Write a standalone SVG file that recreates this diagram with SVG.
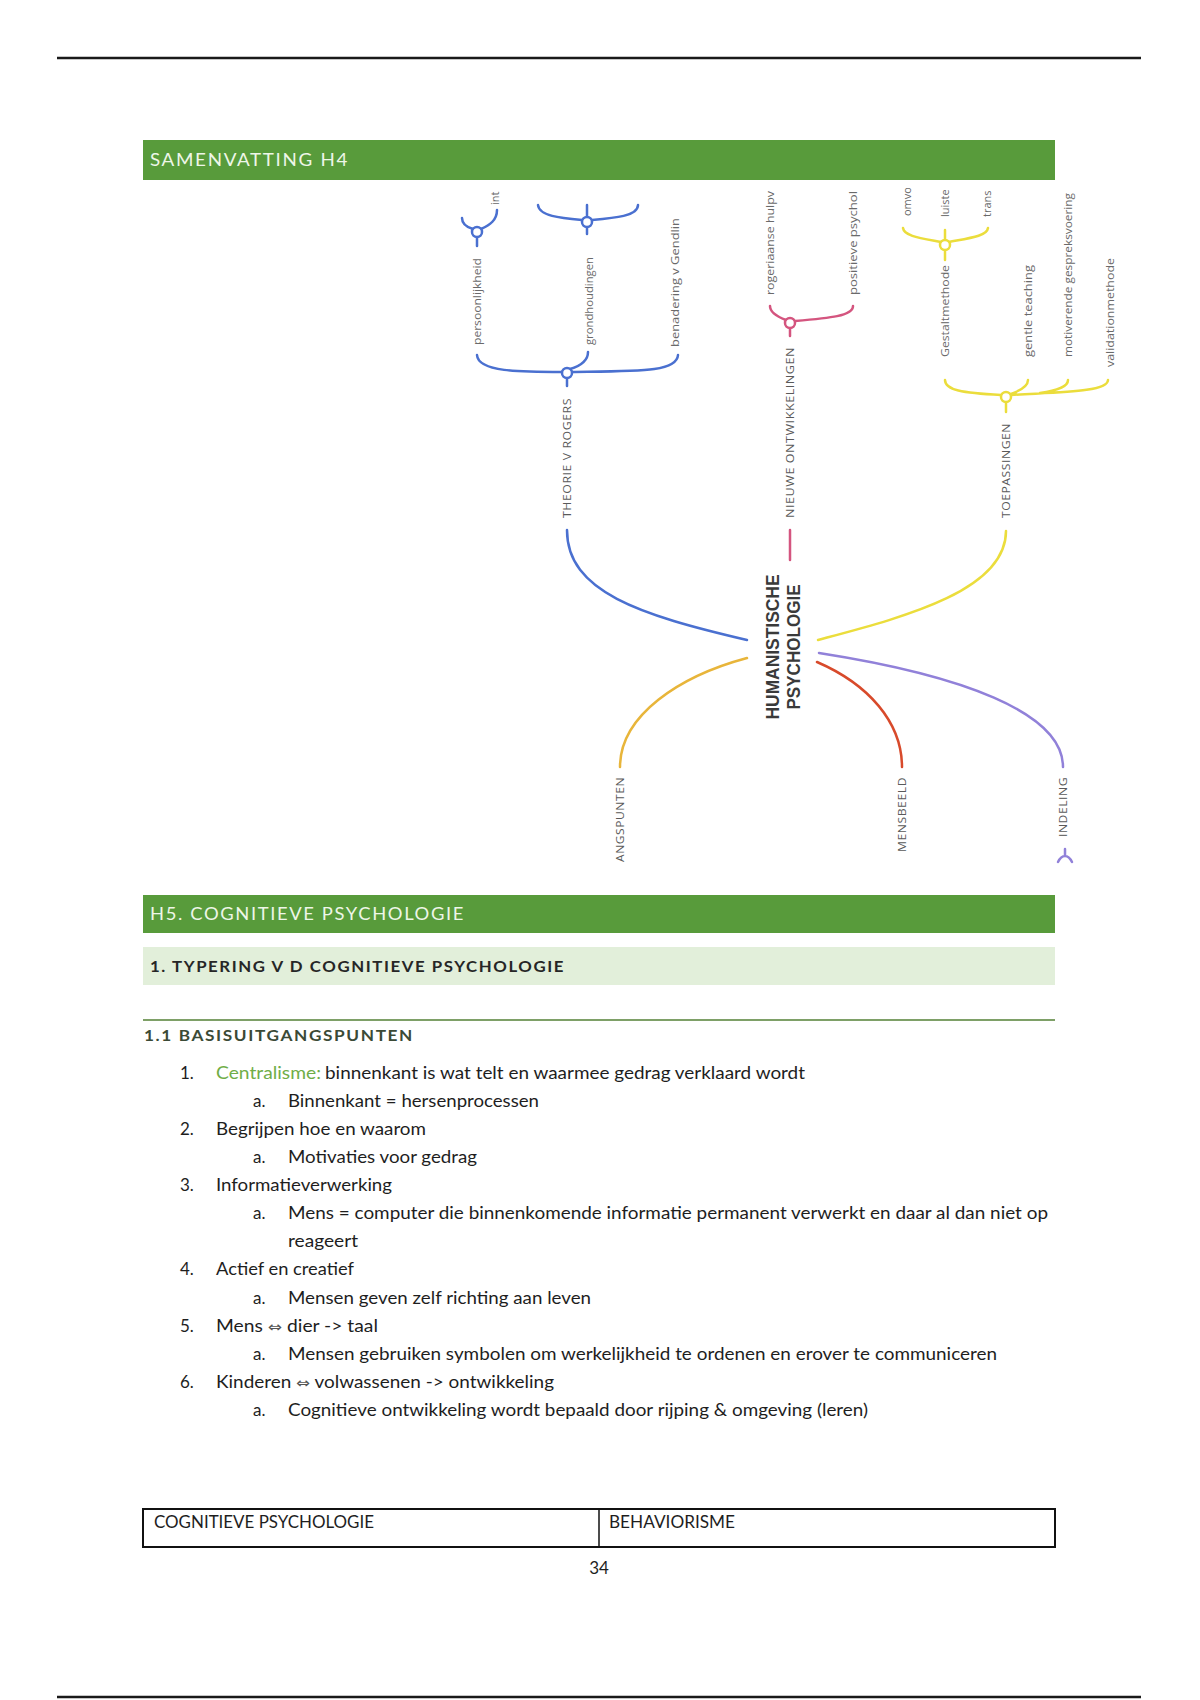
<svg xmlns="http://www.w3.org/2000/svg" width="1200" height="1700" viewBox="0 0 1200 1700">
<defs>
<style>
.rule{stroke:#1a1a1a;stroke-width:2.5}
.bar{fill:#589b3b}
.bartxt{font-family:Lato,"Liberation Sans",sans-serif;font-size:17px;fill:#eef6e8;letter-spacing:1.5px}
.sub{fill:#e2efda}
.subtxt{font-family:Lato,"Liberation Sans",sans-serif;font-size:16px;font-weight:bold;fill:#262626;letter-spacing:1.5px}
.h3{font-family:Lato,"Liberation Sans",sans-serif;font-size:16px;font-weight:bold;fill:#3b4a36;letter-spacing:1.5px}
.body{font-family:Lato,"Liberation Sans",sans-serif;font-size:17px;fill:#1e1e1e}
.sym{font-family:"DejaVu Sans",sans-serif;font-size:15px;fill:#555}
.green{fill:#70ad47}
.lbl{font-family:"Open Sans","Liberation Sans",sans-serif;font-size:11px;fill:#6a6a6a}
.cap{font-family:"Open Sans","Liberation Sans",sans-serif;font-size:11px;fill:#5a5a5a;letter-spacing:0.5px}
.root{font-family:"Liberation Sans",Arial,sans-serif;font-size:19px;font-weight:bold;fill:#3a3a3a}
.ln{fill:none;stroke-width:2.5;stroke-linecap:round}
.blue{stroke:#4a70d0}.pink{stroke:#d4557f}.yel{stroke:#ebdd3c}.org{stroke:#e8b53a}.red{stroke:#d84a2b}.pur{stroke:#9181d9}
.dot{fill:#ffffff;stroke-width:2.5}
</style>
<clipPath id="mmclip"><rect x="440" y="188" width="700" height="690"/></clipPath>
</defs>
<rect x="0" y="0" width="1200" height="1700" fill="#ffffff"/>
<line class="rule" x1="57" y1="58" x2="1141" y2="58"/>
<line class="rule" x1="57" y1="1697" x2="1141" y2="1697"/>

<g id="header-h4">
<rect class="bar" x="143" y="140" width="912" height="40"/>
<text class="bartxt" x="150" y="166" textLength="199" lengthAdjust="spacingAndGlyphs">SAMENVATTING H4</text>
</g>

<g id="mindmap" clip-path="url(#mmclip)">
<g id="connectors">
<path class="ln blue" d="M567,530 C567,592 640,615 747,640"/>
<path class="ln org" d="M747,658 C680,676 620,715 620,767"/>
<path class="ln yel" d="M818,640 C900,618 1006,592 1006,531"/>
<path class="ln red" d="M817,662 C868,684 902,722 902,767"/>
<path class="ln pur" d="M819,653 C960,675 1063,712 1063,767"/>
<path class="ln pink" d="M790,530 L790,560"/>
<path class="ln blue" d="M567,378 L567,386 M562,372 C520,372 478,372 477,355 M572,372 C640,371 677,372 678,355 M570,369 C580,366 588,361 588,352"/>
<path class="ln blue" d="M477,237 L477,246 M473,229 C466,227 462,224 462,218 M481,229 C490,225 497,220 497,210"/>
<path class="ln blue" d="M587,227 L587,234 M582,220 C560,218 539,216 538,205 M592,220 C615,218 638,216 638,205 M587,217 L587,205"/>
<path class="ln pink" d="M790,328 L790,336 M786,320 C778,317 770,313 770,306 M795,321 C830,318 853,316 853,306"/>
<path class="ln yel" d="M945,250 L945,260 M941,242 C920,238 904,236 903,228 M949,242 C970,238 987,236 988,228 M945,240 L945,230"/>
<path class="ln yel" d="M1006,402 L1006,412 M1001,395 C962,393 945,390 945,380 M1011,395 C1060,392 1108,392 1108,380 M1011,394 C1022,390 1028,386 1028,380 M1040,393 C1060,390 1068,386 1068,380"/>
<path class="ln pur" d="M1065,849 L1065,856 M1058,862 C1060,858 1063,856 1065,856 C1067,856 1070,858 1072,862"/>
</g>
<circle class="dot blue" cx="567" cy="373" r="5"/>
<circle class="dot blue" cx="477" cy="232" r="5"/>
<circle class="dot blue" cx="587" cy="222" r="5"/>
<circle class="dot pink" cx="790" cy="323" r="5"/>
<circle class="dot yel" cx="945" cy="245" r="5"/>
<circle class="dot yel" cx="1006" cy="397" r="5"/>

<g id="n-root">
<text class="root" transform="translate(779,647) rotate(-90)" text-anchor="middle" textLength="145" lengthAdjust="spacingAndGlyphs">HUMANISTISCHE</text>
<text class="root" transform="translate(800,647) rotate(-90)" text-anchor="middle" textLength="125" lengthAdjust="spacingAndGlyphs">PSYCHOLOGIE</text>
</g>
<g id="n-theorie"><text class="cap" transform="translate(571,518) rotate(-90)" textLength="120" lengthAdjust="spacingAndGlyphs">THEORIE V ROGERS</text></g>
<g id="n-nieuwe"><text class="cap" transform="translate(794,518) rotate(-90)" textLength="171" lengthAdjust="spacingAndGlyphs">NIEUWE ONTWIKKELINGEN</text></g>
<g id="n-toepassingen"><text class="cap" transform="translate(1010,518) rotate(-90)" textLength="95" lengthAdjust="spacingAndGlyphs">TOEPASSINGEN</text></g>
<g id="n-uitgangspunten"><text class="cap" transform="translate(624,862) rotate(-90)" textLength="85" lengthAdjust="spacingAndGlyphs">ANGSPUNTEN</text></g>
<g id="n-mensbeeld"><text class="cap" transform="translate(906,852) rotate(-90)" textLength="75" lengthAdjust="spacingAndGlyphs">MENSBEELD</text></g>
<g id="n-indeling"><text class="cap" transform="translate(1067,837) rotate(-90)" textLength="60" lengthAdjust="spacingAndGlyphs">INDELING</text></g>
<g id="n-persoonlijkheid"><text class="lbl" transform="translate(481,345) rotate(-90)" textLength="87" lengthAdjust="spacingAndGlyphs">persoonlijkheid</text></g>
<g id="n-grondhoudingen"><text class="lbl" transform="translate(593,345) rotate(-90)" textLength="88" lengthAdjust="spacingAndGlyphs">grondhoudingen</text></g>
<g id="n-gendlin"><text class="lbl" transform="translate(679,347) rotate(-90)" textLength="129" lengthAdjust="spacingAndGlyphs">benadering v Gendlin</text></g>
<g id="n-int"><text class="lbl" transform="translate(499,205) rotate(-90)">int</text></g>
<g id="n-rogeriaanse"><text class="lbl" transform="translate(774,295) rotate(-90)" textLength="104" lengthAdjust="spacingAndGlyphs">rogeriaanse hulpv</text></g>
<g id="n-positieve"><text class="lbl" transform="translate(857,295) rotate(-90)" textLength="104" lengthAdjust="spacingAndGlyphs">positieve psychol</text></g>
<g id="n-omvo"><text class="lbl" transform="translate(911,216) rotate(-90)">omvo</text></g>
<g id="n-luiste"><text class="lbl" transform="translate(949,217) rotate(-90)">luiste</text></g>
<g id="n-trans"><text class="lbl" transform="translate(991,217) rotate(-90)">trans</text></g>
<g id="n-gestalt"><text class="lbl" transform="translate(949,357) rotate(-90)" textLength="92" lengthAdjust="spacingAndGlyphs">Gestaltmethode</text></g>
<g id="n-gentle"><text class="lbl" transform="translate(1032,357) rotate(-90)" textLength="92" lengthAdjust="spacingAndGlyphs">gentle teaching</text></g>
<g id="n-motiverende"><text class="lbl" transform="translate(1072,357) rotate(-90)" textLength="164" lengthAdjust="spacingAndGlyphs">motiverende gespreksvoering</text></g>
<g id="n-validation"><text class="lbl" transform="translate(1114,367) rotate(-90)" textLength="109" lengthAdjust="spacingAndGlyphs">validationmethode</text></g>
</g>

<g id="header-h5">
<rect class="bar" x="143" y="895" width="912" height="38"/>
<text class="bartxt" x="150" y="920" textLength="315" lengthAdjust="spacingAndGlyphs">H5. COGNITIEVE PSYCHOLOGIE</text>
</g>
<g id="header-typering">
<rect class="sub" x="143" y="947" width="912" height="38"/>
<text class="subtxt" x="150" y="972" textLength="415" lengthAdjust="spacingAndGlyphs">1. TYPERING V D COGNITIEVE PSYCHOLOGIE</text>
</g>
<g id="header-basis">
<line x1="143" y1="1020" x2="1055" y2="1020" stroke="#538135" stroke-width="1.5"/>
<text class="h3" x="144" y="1041" textLength="270" lengthAdjust="spacingAndGlyphs">1.1 BASISUITGANGSPUNTEN</text>
</g>

<g id="list">
<text class="body" x="180" y="1079">1.</text>
<text class="body green" x="216" y="1079" textLength="105" lengthAdjust="spacingAndGlyphs">Centralisme:</text>
<text class="body" x="325" y="1079" textLength="480" lengthAdjust="spacingAndGlyphs">binnenkant is wat telt en waarmee gedrag verklaard wordt</text>
<text class="body" x="253" y="1107">a.</text>
<text class="body" x="288" y="1107" textLength="251" lengthAdjust="spacingAndGlyphs">Binnenkant = hersenprocessen</text>
<text class="body" x="180" y="1135">2.</text>
<text class="body" x="216" y="1135" textLength="210" lengthAdjust="spacingAndGlyphs">Begrijpen hoe en waarom</text>
<text class="body" x="253" y="1163">a.</text>
<text class="body" x="288" y="1163" textLength="189" lengthAdjust="spacingAndGlyphs">Motivaties voor gedrag</text>
<text class="body" x="180" y="1191">3.</text>
<text class="body" x="216" y="1191" textLength="176" lengthAdjust="spacingAndGlyphs">Informatieverwerking</text>
<text class="body" x="253" y="1219">a.</text>
<text class="body" x="288" y="1219" textLength="760" lengthAdjust="spacingAndGlyphs">Mens = computer die binnenkomende informatie permanent verwerkt en daar al dan niet op</text>
<text class="body" x="288" y="1247" textLength="70" lengthAdjust="spacingAndGlyphs">reageert</text>
<text class="body" x="180" y="1275">4.</text>
<text class="body" x="216" y="1275" textLength="138" lengthAdjust="spacingAndGlyphs">Actief en creatief</text>
<text class="body" x="253" y="1304">a.</text>
<text class="body" x="288" y="1304" textLength="303" lengthAdjust="spacingAndGlyphs">Mensen geven zelf richting aan leven</text>
<text class="body" x="180" y="1332">5.</text>
<text class="body" x="216" y="1332" textLength="162" lengthAdjust="spacingAndGlyphs">Mens <tspan class="sym">⇔</tspan> dier -&gt; taal</text>
<text class="body" x="253" y="1360">a.</text>
<text class="body" x="288" y="1360" textLength="709" lengthAdjust="spacingAndGlyphs">Mensen gebruiken symbolen om werkelijkheid te ordenen en erover te communiceren</text>
<text class="body" x="180" y="1388">6.</text>
<text class="body" x="216" y="1388" textLength="338" lengthAdjust="spacingAndGlyphs">Kinderen <tspan class="sym">⇔</tspan> volwassenen -&gt; ontwikkeling</text>
<text class="body" x="253" y="1416">a.</text>
<text class="body" x="288" y="1416" textLength="580" lengthAdjust="spacingAndGlyphs">Cognitieve ontwikkeling wordt bepaald door rijping &amp; omgeving (leren)</text>
</g>

<g id="table">
<rect x="143" y="1509" width="912" height="38" fill="none" stroke="#111" stroke-width="2"/>
<line x1="599" y1="1509" x2="599" y2="1547" stroke="#111" stroke-width="1.5"/>
<text class="body" x="154" y="1528" textLength="220" lengthAdjust="spacingAndGlyphs">COGNITIEVE PSYCHOLOGIE</text>
<text class="body" x="609" y="1528" textLength="126" lengthAdjust="spacingAndGlyphs">BEHAVIORISME</text>
</g>
<text class="body" x="599" y="1574" text-anchor="middle" fill="#444">34</text>
</svg>
